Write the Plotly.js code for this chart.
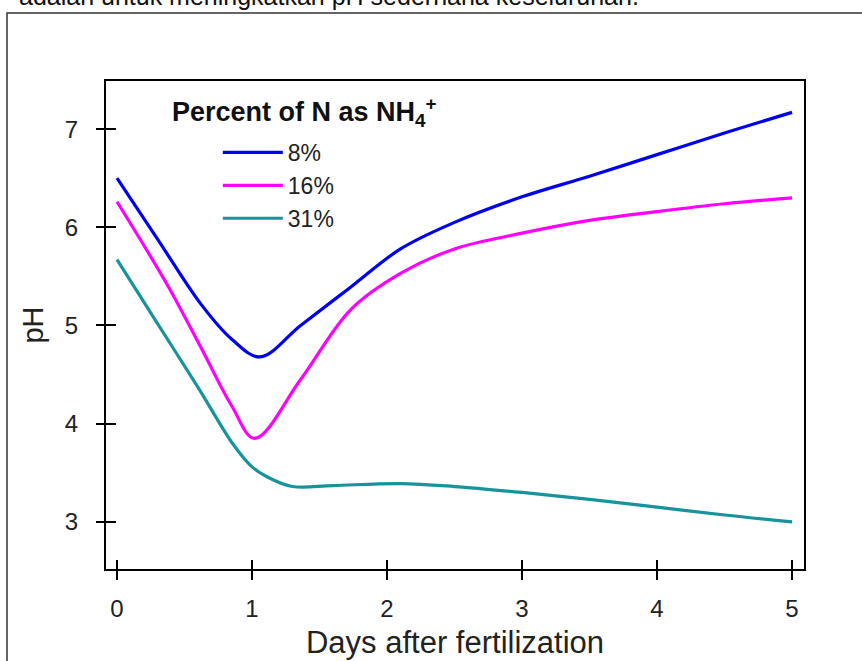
<!DOCTYPE html>
<html>
<head>
<meta charset="utf-8">
<script src="https://cdn.plot.ly/plotly-3.0.1.min.js"></script>
<style>html,body{margin:0;padding:0;background:#fff;}#chart{width:862px;height:661px;}</style>
</head>
<body>
<div id="chart"></div>
<script>
// Data
var days8  = [0, 0.3, 0.62, 0.85, 1.06, 1.36, 1.73, 2.1, 2.5, 3, 3.5, 4, 4.5, 5];
var ph8    = [6.50, 5.88, 5.22, 4.86, 4.68, 5.00, 5.39, 5.78, 6.05, 6.31, 6.52, 6.74, 6.96, 7.17];
var days16 = [0, 0.37, 0.62, 0.85, 1.02, 1.36, 1.73, 2.1, 2.5, 3, 3.5, 4, 4.5, 5];
var ph16   = [6.26, 5.42, 4.78, 4.18, 3.85, 4.45, 5.16, 5.53, 5.78, 5.94, 6.07, 6.16, 6.24, 6.30];
var days31 = [0, 0.3, 0.6, 0.86, 1.0, 1.11, 1.3, 1.6, 2.1, 2.5, 3, 3.5, 4, 4.5, 5];
var ph31   = [5.67, 5.02, 4.37, 3.79, 3.56, 3.46, 3.36, 3.37, 3.39, 3.36, 3.30, 3.23, 3.15, 3.07, 3.00];
var seriesNames = ['8%', '16%', '31%'];
var seriesColors = ['#0000f0', '#ff00ff', '#16939b'];
var xTicks = [0, 1, 2, 3, 4, 5];
var yTicks = [3, 4, 5, 6, 7];
var topText = 'adalah untuk meningkatkan pH sederhana keseluruhan.';
var legendTitle = '<b>Percent of N as NH<sub>4</sub><sup>+</sup></b>';

var FONT = '"Liberation Sans", Arial, sans-serif';
var xs = [days8, days16, days31];
var ys = [ph8, ph16, ph31];
var traces = seriesNames.map(function (n, i) {
  return {
    x: xs[i], y: ys[i], name: n, type: 'scatter', mode: 'lines',
    line: {color: seriesColors[i], width: 3.2, shape: 'spline', smoothing: 1},
    hoverinfo: 'x+y+name'
  };
});

// Geometry: plot area frame 105..805 x 80..570; ticks cross the frame lines
var W = 862, H = 661, ML = 95, MR = 57, MT = 80, MB = 81, TICK = 10;
var PW = W - ML - MR, PH = H - MT - MB;

var axCommon = {
  showgrid: false, zeroline: false, showline: false,
  ticks: 'inside', ticklen: 2 * TICK, tickwidth: 2, tickcolor: '#000',
  anchor: 'free', position: 0,
  tickfont: {family: FONT, size: 24, color: '#222'}
};

var layout = {
  width: W, height: H,
  margin: {l: ML, r: MR, t: MT, b: MB},
  paper_bgcolor: '#fff', plot_bgcolor: 'rgba(0,0,0,0)',
  font: {family: FONT, color: '#222'},
  showlegend: true,
  legend: {
    x: 0.173, y: 0.898, xanchor: 'left', yanchor: 'top',
    bgcolor: 'rgba(0,0,0,0)', borderwidth: 0,
    font: {family: FONT, size: 23, color: '#222'},
    itemwidth: 60, tracegroupgap: 0
  },
  xaxis: Object.assign({}, axCommon, {
    domain: [TICK / PW, 1],
    range: [-0.089, 5.096], tickvals: xTicks, ticktext: xTicks.map(String),
    ticklabelstandoff: 12,
    title: {text: 'Days after fertilization', font: {family: FONT, size: 31, color: '#222'}, standoff: 10}
  }),
  yaxis: Object.assign({}, axCommon, {
    domain: [TICK / PH, 1],
    range: [2.51, 7.5], tickvals: yTicks, ticktext: yTicks.map(String),
    ticklabelstandoff: 17,
    title: {text: 'pH', font: {family: FONT, size: 29, color: '#222'}, standoff: 11}
  }),
  shapes: [
    {type: 'rect', xref: 'x domain', yref: 'y domain', x0: 0, x1: 1, y0: 0, y1: 1,
     line: {color: '#000', width: 2}, fillcolor: 'rgba(0,0,0,0)', layer: 'above'},
    {type: 'rect', xref: 'paper', yref: 'paper', x0: (7 - ML) / PW, x1: 1.4, y0: -0.5, y1: (H - MB - 13) / PH,
     line: {color: '#333', width: 1.5}, fillcolor: 'rgba(0,0,0,0)', layer: 'below'}
  ],
  annotations: [
    {text: topText, xref: 'paper', yref: 'paper', x: (17 - ML) / PW, y: (H - MB - 12) / PH, xanchor: 'left', yanchor: 'bottom',
     showarrow: false, font: {family: FONT, size: 25, color: '#111'}},
    {text: legendTitle, xref: 'paper', yref: 'paper', x: (170 - ML) / PW, y: (H - MB - 112) / PH, xanchor: 'left', yanchor: 'middle',
     showarrow: false, font: {family: FONT, size: 27, color: '#111'}}
  ]
};

Plotly.newPlot('chart', traces, layout, {displayModeBar: false, staticPlot: true});
</script>
</body>
</html>
